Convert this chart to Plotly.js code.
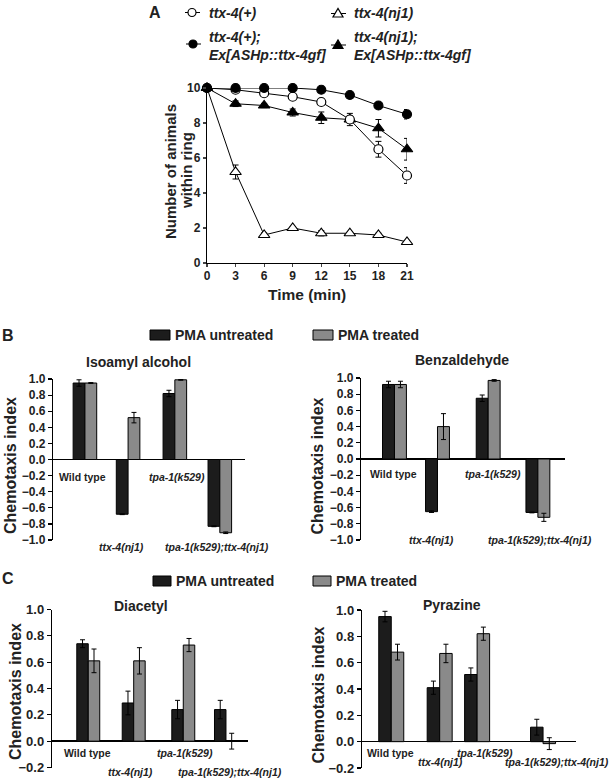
<!DOCTYPE html>
<html><head><meta charset="utf-8">
<script src="https://cdn.plot.ly/plotly-3.0.1.min.js"></script>
<style>html,body{margin:0;padding:0;background:#fff}#chart{width:610px;height:778px}</style>
</head><body><div id="chart"></div>
<script>
// ---------- Panel A data ----------
const timeMin = [0, 3, 6, 9, 12, 15, 18, 21];
const timeTicks = [0, 3, 6, 9, 12, 15, 18, 21];
const wtMean = [10, 9.9, 9.7, 9.5, 9.2, 8.2, 6.5, 5.0];
const wtErr = [0, 0.05, 0.08, 0.15, 0.1, 0.2, 0.45, 0.45];
const nj1Mean = [10, 5.2, 1.6, 2.0, 1.7, 1.7, 1.6, 1.2];
const nj1Err = [0, 0.4, 0.12, 0.05, 0.15, 0.08, 0.1, 0.05];
const wtGfMean = [10, 10, 10, 10, 9.9, 9.6, 9.0, 8.5];
const wtGfErr = [0, 0, 0, 0, 0.05, 0.1, 0.17, 0.27];
const nj1GfMean = [10, 9.1, 9.0, 8.6, 8.3, 8.2, 7.7, 6.5];
const nj1GfErr = [0, 0.16, 0.12, 0.2, 0.33, 0.35, 0.5, 0.62];
const seriesNames = ['ttx-4(+)', 'ttx-4(nj1)', 'ttx-4(+);<br>Ex[ASHp::ttx-4gf]', 'ttx-4(nj1);<br>Ex[ASHp::ttx-4gf]'];

// ---------- Panels B & C data ----------
const genotypes = ['Wild type', 'ttx-4(nj1)', 'tpa-1(k529)', 'tpa-1(k529);ttx-4(nj1)'];
const treatments = ['PMA untreated', 'PMA treated'];
const odorants = ['Isoamyl alcohol', 'Benzaldehyde', 'Diacetyl', 'Pyrazine'];
const isoUntreated = [0.95, -0.68, 0.82, -0.83];
const isoUntreatedErr = [0.04, 0.005, 0.04, 0.005];
const isoTreated = [0.95, 0.52, 0.99, -0.91];
const isoTreatedErr = [0.005, 0.065, 0.005, 0.01];
const benzUntreated = [0.92, -0.65, 0.75, -0.66];
const benzUntreatedErr = [0.04, 0.01, 0.04, 0.005];
const benzTreated = [0.92, 0.40, 0.97, -0.72];
const benzTreatedErr = [0.04, 0.16, 0.01, 0.05];
const diaUntreated = [0.74, 0.29, 0.24, 0.24];
const diaUntreatedErr = [0.03, 0.09, 0.07, 0.07];
const diaTreated = [0.61, 0.61, 0.73, 0.0];
const diaTreatedErr = [0.09, 0.1, 0.05, 0.06];
const pyrUntreated = [0.95, 0.41, 0.51, 0.11];
const pyrUntreatedErr = [0.04, 0.05, 0.05, 0.06];
const pyrTreated = [0.68, 0.67, 0.82, -0.015];
const pyrTreatedErr = [0.06, 0.07, 0.05, 0.045];

// ---------- layout helpers ----------
const W = 610, H = 778;
const px = v => v / W;
const py = v => 1 - v / H;
const FONT = 'Liberation Sans, Arial, Helvetica, sans-serif';
const BLACK = '#1c1c1c', GRAY = '#8a8a8a';

// group slot positions (layout) per panel
const isoSlots = [0, 0.96, 2.0, 3.0];
const benzSlots = [0, 0.90, 1.96, 3.0];
const diaSlots = [0, 0.99, 2.07, 3.0];
const pyrSlots = [0, 0.957, 1.697, 3.0];

const traces = [];

// Panel A traces
function lineTrace(y, err, name, symbol, fill) {
  return {
    type: 'scatter', mode: 'lines+markers', x: timeMin, y: y, name: name,
    xaxis: 'x', yaxis: 'y', showlegend: false, cliponaxis: false,
    line: {color: '#000', width: 1},
    marker: {symbol: symbol, size: symbol.startsWith('triangle') ? 10 : 9, color: fill, line: {color: '#000', width: 1.2}},
    error_y: {type: 'data', array: err, color: '#000', thickness: 1, width: 3}
  };
}
traces.push(lineTrace(nj1Mean, nj1Err, seriesNames[1], 'triangle-up', '#fff'));
traces.push(lineTrace(nj1GfMean, nj1GfErr, seriesNames[3], 'triangle-up', '#000'));
traces.push(lineTrace(wtMean, wtErr, seriesNames[0], 'circle', '#fff'));
traces.push(lineTrace(wtGfMean, wtGfErr, seriesNames[2], 'circle', '#000'));

function barPanel(n, slots, unt, untErr, trt, trtErr, bw) {
  const common = {type: 'bar', x: slots, width: bw, xaxis: 'x' + n, yaxis: 'y' + n, showlegend: false};
  traces.push(Object.assign({}, common, {
    y: unt, name: treatments[0], offset: -bw,
    marker: {color: BLACK, line: {color: '#000', width: 1}},
    error_y: {type: 'data', array: untErr, color: '#000', thickness: 1, width: 2.5}
  }));
  traces.push(Object.assign({}, common, {
    y: trt, name: treatments[1], offset: 0,
    marker: {color: GRAY, line: {color: '#000', width: 1}},
    error_y: {type: 'data', array: trtErr, color: '#000', thickness: 1, width: 2.5}
  }));
}
barPanel(2, isoSlots, isoUntreated, isoUntreatedErr, isoTreated, isoTreatedErr, 0.262);
barPanel(3, benzSlots, benzUntreated, benzUntreatedErr, benzTreated, benzTreatedErr, 0.25);
barPanel(4, diaSlots, diaUntreated, diaUntreatedErr, diaTreated, diaTreatedErr, 0.25);
barPanel(5, pyrSlots, pyrUntreated, pyrUntreatedErr, pyrTreated, pyrTreatedErr, 0.247);

// axes
function barX(dom, range) {
  return {domain: dom, range: range, showline: false, showgrid: false, zeroline: false,
    showticklabels: false, ticks: '', fixedrange: true};
}
function barY(dom, range, anchor, fs) {
  return {domain: dom, range: range, anchor: anchor, showline: true, linecolor: '#000', linewidth: 1.2,
    ticks: 'outside', ticklen: 4, tickwidth: 1.2, tickcolor: '#000', dtick: 0.2, tickformat: '.1f',
    showgrid: false, zeroline: true, zerolinecolor: '#000', zerolinewidth: 1.4,
    tickfont: {family: FONT, size: fs, color: '#222', weight: 'bold'}};
}

const layout = {
  width: W, height: H, margin: {l: 0, r: 0, t: 0, b: 0},
  paper_bgcolor: '#fff', plot_bgcolor: 'rgba(0,0,0,0)',
  font: {family: FONT, color: '#222'},
  barmode: 'overlay', showlegend: false,
  xaxis: {domain: [px(207), px(407)], range: [0, 21], anchor: 'y', tickvals: timeTicks,
    showline: true, linecolor: '#000', linewidth: 1.2, ticks: 'outside', ticklen: 3, tickwidth: 1.2,
    ticklabelstandoff: -2,
    showgrid: false, zeroline: false, tickfont: {family: FONT, size: 12, color: '#222', weight: 'bold'}},
  yaxis: {domain: [py(263), py(88)], range: [0, 10], anchor: 'x', dtick: 2,
    showline: true, linecolor: '#000', linewidth: 1.2, ticks: 'outside', ticklen: 3, tickwidth: 1.2,
    showgrid: false, zeroline: false, tickfont: {family: FONT, size: 12, color: '#222', weight: 'bold'}},
  xaxis2: Object.assign(barX([px(53), px(245)], [-0.71, 3.56]), {anchor: 'y2'}),
  yaxis2: barY([py(540), py(379)], [-1, 1], 'x2', 12),
  xaxis3: Object.assign(barX([px(361), px(565)], [-0.70, 3.567]), {anchor: 'y3'}),
  yaxis3: barY([py(540), py(378)], [-1, 1], 'x3', 12),
  xaxis4: Object.assign(barX([px(52), px(248)], [-0.79, 3.48]), {anchor: 'y4'}),
  yaxis4: barY([py(767.5), py(609.5)], [-0.2, 1.0], 'x4', 13),
  xaxis5: Object.assign(barX([px(362), px(576)], [-0.578, 3.651]), {anchor: 'y5'}),
  yaxis5: barY([py(768), py(610)], [-0.2, 1.0], 'x5', 13),
  annotations: [], shapes: []
};

const A = layout.annotations, S = layout.shapes;
function ann(text, x, y, o) {
  A.push(Object.assign({text: text, xref: 'paper', yref: 'paper', x: px(x), y: py(y),
    xanchor: 'center', yanchor: 'middle', showarrow: false,
    font: {family: FONT, size: 14, color: '#222', weight: 'bold'}}, o || {}));
}
const bold = (s, st) => ({family: FONT, size: s, color: '#222', weight: 'bold', style: st || 'normal'});

// panel letters
ann('A', 155, 13, {font: bold(16)});
ann('B', 8, 335, {font: bold(16)});
ann('C', 8, 578, {font: bold(16)});

// Panel A legend (manual)
function legSym(x, y, kind, filled) {
  S.push({type: 'line', xref: 'paper', yref: 'paper', x0: px(x - 7), x1: px(x + 8), y0: py(y), y1: py(y), line: {color: '#000', width: 1}});
  const base = {xref: 'paper', yref: 'paper', xsizemode: 'pixel', ysizemode: 'pixel', xanchor: px(x), yanchor: py(y),
    fillcolor: filled ? '#000' : '#fff', line: {color: '#000', width: 1.2}};
  if (kind === 'circle') S.push(Object.assign({type: 'circle', x0: -4, x1: 4, y0: -4, y1: 4}, base));
  else S.push(Object.assign({type: 'path', path: 'M -5,-3.5 L 5,-3.5 L 0,5 Z'}, base));
}
legSym(192, 12.5, 'circle', false);
legSym(338, 13.5, 'triangle', false);
legSym(193, 44, 'circle', true);
legSym(338, 45, 'triangle', true);
ann(seriesNames[0], 207, 12.5, {xanchor: 'left', font: bold(14, 'italic')});
ann(seriesNames[1], 352, 12.5, {xanchor: 'left', font: bold(14, 'italic')});
ann(seriesNames[2], 207, 45.5, {xanchor: 'left', align: 'left', font: bold(14, 'italic')});
ann(seriesNames[3], 352, 45.5, {xanchor: 'left', align: 'left', font: bold(14, 'italic')});

// Panel A axis titles
ann('Number of animals', 170, 171, {textangle: -90, font: bold(15)});
ann('within ring', 186, 171, {textangle: -90, font: bold(15)});
ann('Time (min)', 307, 294, {font: bold(15.5)});

// Bar legends
function barLeg(x, y, w, h, color, text, fs) {
  S.push({type: 'rect', xref: 'paper', yref: 'paper', x0: px(x), x1: px(x + w), y0: py(y + h), y1: py(y),
    fillcolor: color, line: {color: '#000', width: 1}});
  ann(text, x + w + 3, y + h / 2, {xanchor: 'left', font: bold(fs)});
}
barLeg(150, 330, 20, 10, BLACK, treatments[0], 14);
barLeg(313, 330, 20, 10, GRAY, treatments[1], 14);
barLeg(153, 576, 18, 10, BLACK, treatments[0], 14);
barLeg(313, 576, 18, 10, GRAY, treatments[1], 14);

// Odorant titles
ann(odorants[0], 138, 362, {font: bold(14)});
ann(odorants[1], 462, 360, {font: bold(14)});
ann(odorants[2], 141, 606, {font: bold(14)});
ann(odorants[3], 452, 605, {font: bold(14)});

// Y titles
ann('Chemotaxis index', 10, 466, {textangle: -90, font: bold(16)});
ann('Chemotaxis index', 316.5, 466, {textangle: -90, font: bold(16)});
ann('Chemotaxis index', 15, 692, {textangle: -90, font: bold(16)});
ann('Chemotaxis index', 317.5, 695, {textangle: -90, font: bold(16)});

// Genotype labels (Wild type upright, others italic)
function genoLabels(pos) {
  pos.forEach((p, i) => ann(genotypes[i], p[0], p[1], {font: bold(10.5, i === 0 ? 'normal' : 'italic')}));
}
genoLabels([[82, 477], [121, 547], [177, 477], [217, 547]]);
genoLabels([[393, 474], [431, 539.5], [493, 474], [540, 539.5]]);
genoLabels([[87, 753], [130, 771.5], [185, 753], [230, 771.5]]);
genoLabels([[390, 753], [440, 761.5], [485, 753], [557, 761.5]]);

Plotly.newPlot('chart', traces, layout, {displayModeBar: false, staticPlot: true});
</script>
</body></html>
